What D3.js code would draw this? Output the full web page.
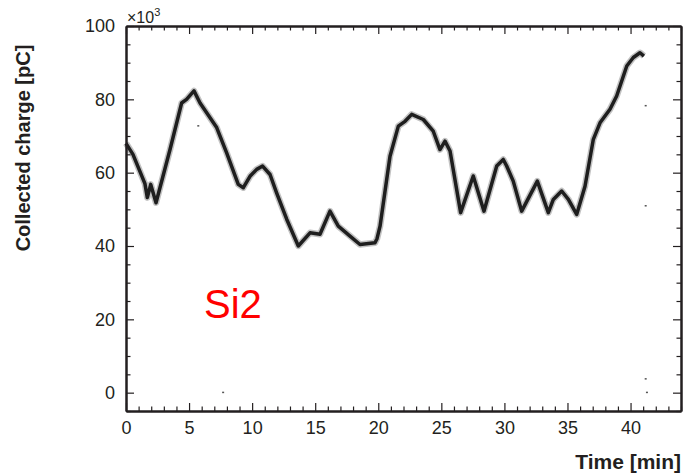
<!DOCTYPE html>
<html>
<head>
<meta charset="utf-8">
<script src="https://cdn.jsdelivr.net/npm/d3@7"></script>
<style>
    body { margin: 0; background: #fff; }
    svg text { font-family: "Liberation Sans", Arial, sans-serif; fill: #231f20; }
    .axis path, .axis line { stroke: #231f20; }
    .axis path { stroke-width: 2; }
    .axis line { stroke-width: 1.2; }
    .axis text { font-size: 18px; }
</style>
</head>
<body>
<svg id="d3-si2" width="683" height="474"></svg>
<script>
/*********************/
/*** INIT VARIABLE ***/
/*********************/

let si_svg = d3.select("#d3-si2");

let margin = {top: 26, right: 2, bottom: 63, left: 126},
    width  = 683 - margin.left - margin.right,
    height = 474 - margin.top - margin.bottom;

// time in minutes, collected charge in units of 10^3 pC
let time_min = [0, 0.55, 1.5, 1.69, 1.96, 2.38, 3.49, 4.41, 4.8, 5.39, 5.87, 7.19, 7.98, 8.9, 9.3,
                9.83, 10.36, 10.83, 11.42, 11.94, 12.74, 13.66, 14.59, 15.38, 16.17, 16.83, 17.76,
                18.55, 19.74, 19.9, 20.14, 20.93, 21.59, 22.12, 22.65, 23.57, 24.36, 24.89, 25.29,
                25.69, 26.53, 27.53, 28.38, 29.39, 29.91, 30.18, 30.7, 31.37, 32.61, 33.48, 33.88,
                34.54, 35.07, 35.73, 36.39, 37.05, 37.58, 38.37, 38.9, 39.7, 40.22, 40.75, 41.06];

let charge = [68, 65, 57, 53.2, 56.8, 51.8, 66.3, 79, 80, 82.3, 79, 72.3, 65.4, 56.8, 55.9,
              59, 60.9, 61.8, 59.5, 54.5, 47.3, 40, 43.6, 43.2, 49.5, 45.4, 42.7,
              40.4, 40.9, 42, 45.4, 64.5, 72.7, 74, 75.9, 74.5, 71.3, 66.3, 68.6,
              65.9, 49.1, 59.1, 49.5, 61.8, 63.6, 61.8, 57.7, 49.5, 57.7, 49.1, 52.7,
              55, 52.7, 48.6, 56.3, 69.1, 73.6, 77.3, 80.9, 89.1, 91.4, 92.7, 91.8];

// a few stray hits away from the band
let stray_time   = [5.73, 7.7, 41.2, 41.2, 41.3, 41.2];
let stray_charge = [72.7, 0, 78.2, 50.9, 0, 3.7];

let x_major = [0, 5, 10, 15, 20, 25, 30, 35, 40],
    y_major = [0, 20, 40, 60, 80, 100];

let x = d3.scaleLinear().domain([0, 44]).range([0, width]),
    y = d3.scaleLinear().domain([-5, 100]).range([height, 0]);

let data = time_min.map((t, i) => ({t: t, v: charge[i]}));
let stray = stray_time.map((t, i) => ({t: t, v: stray_charge[i]}));

/********************************/
/*** DECLARE HELPER FUNCTIONS ***/
/********************************/

function render_axes() {
    let x_minor = d3.range(0, 45, 1).filter((d) => d % 5 !== 0),
        y_minor = d3.range(-5, 101, 5).filter((d) => d % 20 !== 0);

    // major + labelled
    si_svg.append("g").classed("axis", true)
        .attr("transform", `translate(${margin.left}, ${margin.top + height})`)
        .call(d3.axisBottom(x).tickValues(x_major).tickSizeInner(-8).tickSizeOuter(0).tickPadding(10));
    si_svg.append("g").classed("axis", true)
        .attr("transform", `translate(${margin.left}, ${margin.top})`)
        .call(d3.axisLeft(y).tickValues(y_major).tickSizeInner(-8).tickSizeOuter(0).tickPadding(11));
    si_svg.append("g").classed("axis", true)
        .attr("transform", `translate(${margin.left}, ${margin.top})`)
        .call(d3.axisTop(x).tickValues(x_major).tickSizeInner(-8).tickSizeOuter(0).tickFormat(""));
    si_svg.append("g").classed("axis", true)
        .attr("transform", `translate(${margin.left + width}, ${margin.top})`)
        .call(d3.axisRight(y).tickValues(y_major).tickSizeInner(-8).tickSizeOuter(0).tickFormat(""));

    // minor ticks
    let minor = [
        [d3.axisBottom(x).tickValues(x_minor), `translate(${margin.left}, ${margin.top + height})`],
        [d3.axisTop(x).tickValues(x_minor), `translate(${margin.left}, ${margin.top})`],
        [d3.axisLeft(y).tickValues(y_minor), `translate(${margin.left}, ${margin.top})`],
        [d3.axisRight(y).tickValues(y_minor), `translate(${margin.left + width}, ${margin.top})`]
    ];
    minor.forEach((m) => {
        si_svg.append("g").classed("axis", true)
            .attr("transform", m[1])
            .call(m[0].tickSizeInner(-4.5).tickSizeOuter(0).tickFormat(""));
    });

    // labels
    si_svg.append("text")
        .attr("transform", `translate(30, 148) rotate(-90)`)
        .attr("text-anchor", "middle")
        .style("font-size", "20px")
        .style("font-weight", "bold")
        .text("Collected charge [pC]");

    si_svg.append("text")
        .attr("x", margin.left + width)
        .attr("y", 469)
        .attr("text-anchor", "end")
        .style("font-size", "21px")
        .style("font-weight", "bold")
        .text("Time [min]");

    let mult = si_svg.append("text")
        .attr("x", margin.left + 1)
        .attr("y", 23)
        .style("font-size", "16px");
    mult.append("tspan").text("\u00d710");
    mult.append("tspan").attr("dy", -7).style("font-size", "11px").text("3");
}

function render_points() {
    let line = d3.line()
        .x((d) => margin.left + x(d.t))
        .y((d) => margin.top + y(d.v));

    // soft halo for the scatter spread, dark band on top
    si_svg.append("path")
        .datum(data)
        .attr("d", line)
        .attr("fill", "none")
        .attr("stroke", "#777")
        .attr("stroke-opacity", 0.45)
        .attr("stroke-width", 6.5)
        .attr("stroke-linejoin", "round");

    si_svg.append("path")
        .datum(data)
        .attr("d", line)
        .attr("fill", "none")
        .attr("stroke", "#1e1e1e")
        .attr("stroke-width", 3.5)
        .attr("stroke-linejoin", "round");

    si_svg.selectAll("rect.stray")
        .data(stray).enter()
        .append("rect")
        .classed("stray", true)
        .attr("x", (d) => margin.left + x(d.t) - 1)
        .attr("y", (d) => margin.top + y(d.v) - 1)
        .attr("width", 2)
        .attr("height", 1.5)
        .attr("fill", "#555");

    si_svg.append("text")
        .attr("x", 204)
        .attr("y", 318)
        .style("font-size", "40px")
        .style("fill", "#ff0000")
        .text("Si2");
}

/*********************************/
/*** DRAW ***/
/*********************************/

render_points();
render_axes();
</script>
</body>
</html>
